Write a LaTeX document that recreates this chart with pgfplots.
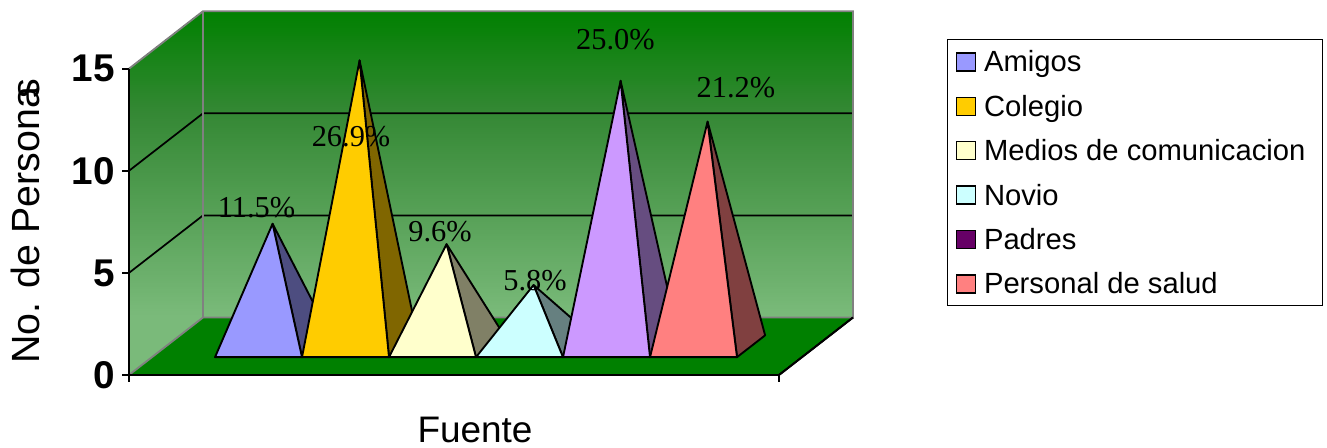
\documentclass[border=0pt]{standalone}
\usepackage{fontspec}
\setmainfont{Liberation Sans}
\newfontfamily\serifnum{Liberation Serif}
\usepackage{pgfplots}
\pgfplotsset{compat=1.18}
\definecolor{wallTop}{RGB}{0,128,0}
\definecolor{wallMid}{RGB}{52,136,52}
\definecolor{wallBottom}{RGB}{122,186,122}
\definecolor{floorgreen}{RGB}{0,128,0}
\definecolor{wallEdge}{RGB}{128,128,128}
\definecolor{amigos}{HTML}{9999FF}
\definecolor{amigosD}{HTML}{4D4D80}
\definecolor{colegio}{HTML}{FFCC00}
\definecolor{colegioD}{HTML}{806600}
\definecolor{medios}{HTML}{FFFFCC}
\definecolor{mediosD}{HTML}{808066}
\definecolor{novio}{HTML}{CCFFFF}
\definecolor{novioD}{HTML}{668080}
\definecolor{padres}{HTML}{CC99FF}
\definecolor{padresD}{HTML}{664D80}
\definecolor{padresLeg}{HTML}{660066}
\definecolor{salud}{HTML}{FF8080}
\definecolor{saludD}{HTML}{804040}
\begin{document}
\begin{tikzpicture}
\begin{axis}[
  x={(65.25pt,0pt)}, y={(55.5pt,43.1pt)}, z={(0pt,15.315pt)},
  xmin=0, xmax=7.471, ymin=0, ymax=1, zmin=0, zmax=15,
  axis lines=left,
  axis line style={-, line width=1.4pt},
  axis on top=true,
  clip=false,
  xtick=\empty, ytick=\empty,
  ztick={0,5,10,15},
  major tick length=0pt,
  ztick style={draw=none},
  /pgf/number format/assume math mode=true,
  zticklabel style={font=\fontsize{29}{31}\selectfont\bfseries,anchor=east,inner sep=0pt,xshift=-10.5pt,yshift=0pt},
  every axis x label/.style={at={(axis cs:3.977,0,-3.33)},anchor=base,inner sep=0pt,font=\fontsize{27.7}{30}\selectfont},
  every axis z label/.style={at={(axis cs:-1.023,0,7.517)},anchor=base,rotate=90,inner sep=0pt,font=\fontsize{29.5}{32}\selectfont},
  xlabel={Fuente},
  zlabel={No. de Persona\kern-0.3em s},
  legend style={at={(1.1298,0.923)},anchor=north west,draw=black,line width=0.9pt,
    font=\fontsize{21.9}{24}\selectfont,
    row sep=1.8pt,column sep=6pt,inner xsep=6pt,inner ysep=0.75pt,
    nodes={text height=18pt,text depth=3pt,inner ysep=5.25pt,inner xsep=0pt,anchor=west}},
  legend cell align=left,
  legend image code/.code={\draw[#1,draw=black,line width=1.1pt] (0pt,-6.75pt) rectangle (14.25pt,6.75pt);},
]
\coordinate (O) at (axis cs:0,0,0);

% side and back walls share one gradient that runs straight down the page
\fill[wallBottom] (axis cs:0,0,0) -- (axis cs:0,0,15) -- (axis cs:0,1,15) -- (axis cs:7.471,1,15) -- (axis cs:7.471,1,0) -- (axis cs:0,1,0) -- cycle;
\begin{scope}
\clip (axis cs:0,0,0) -- (axis cs:0,0,15) -- (axis cs:0,1,15) -- (axis cs:7.471,1,15) -- (axis cs:7.471,1,0) -- (axis cs:0,1,0) -- cycle;
\pgfplotsinvokeforeach{0,...,100}{
  \fill[wallMid!#1!wallBottom] (axis cs:-1,1,{0.1*#1}) -- (axis cs:7.471,1,{0.1*#1}) -- (axis cs:7.471,1,15) -- (axis cs:-1,1,15) -- cycle;
}
\pgfplotsinvokeforeach{0,...,50}{
  \fill[wallTop!\the\numexpr 2*#1\relax!wallMid] (axis cs:-1,1,{10+0.1*#1}) -- (axis cs:7.471,1,{10+0.1*#1}) -- (axis cs:7.471,1,15) -- (axis cs:-1,1,15) -- cycle;
}
\end{scope}
% floor
\fill[floorgreen] (axis cs:0,0,0) -- (axis cs:7.471,0,0) -- (axis cs:7.471,1,0) -- (axis cs:0,1,0) -- cycle;
% gridlines along the walls
\draw[black,line width=1.3pt] (axis cs:0,0,5) -- (axis cs:0,1,5) -- (axis cs:7.471,1,5);
\draw[black,line width=1.3pt] (axis cs:0,0,10) -- (axis cs:0,1,10) -- (axis cs:7.471,1,10);
% wall outlines
\draw[wallEdge,line width=1.4pt] (axis cs:0,0,15) -- (axis cs:0,1,15) -- (axis cs:7.471,1,15) -- (axis cs:7.471,1,0) -- (axis cs:0,1,0) -- (axis cs:0,0,0);
\draw[wallEdge,line width=1.4pt] (axis cs:0,1,15) -- (axis cs:0,1,0);
% right edge of the floor
\draw[black,line width=1.4pt] (axis cs:7.471,0,0) -- (axis cs:7.471,1,0);

% one pyramid per source: shaded side first, then the front face
\pgfplotsset{pyramid/.style={draw=black,line width=1.4pt,line join=round,forget plot}}
\addplot3[pyramid,fill=amigosD] coordinates {(1.725,0.31,0) (1.725,0.69,0) (1.225,0.5,6)} -- cycle;
\addplot3[pyramid,fill=amigos] coordinates {(0.725,0.31,0) (1.725,0.31,0) (1.225,0.5,6)} -- cycle;
\addplot3[pyramid,fill=colegioD] coordinates {(2.725,0.31,0) (2.725,0.69,0) (2.225,0.5,14)} -- cycle;
\addplot3[pyramid,fill=colegio] coordinates {(1.725,0.31,0) (2.725,0.31,0) (2.225,0.5,14)} -- cycle;
\addplot3[pyramid,fill=mediosD] coordinates {(3.725,0.31,0) (3.725,0.69,0) (3.225,0.5,5)} -- cycle;
\addplot3[pyramid,fill=medios] coordinates {(2.725,0.31,0) (3.725,0.31,0) (3.225,0.5,5)} -- cycle;
\addplot3[pyramid,fill=novioD] coordinates {(4.725,0.31,0) (4.725,0.69,0) (4.225,0.5,3)} -- cycle;
\addplot3[pyramid,fill=novio] coordinates {(3.725,0.31,0) (4.725,0.31,0) (4.225,0.5,3)} -- cycle;
\addplot3[pyramid,fill=padresD] coordinates {(5.725,0.31,0) (5.725,0.69,0) (5.225,0.5,13)} -- cycle;
\addplot3[pyramid,fill=padres] coordinates {(4.725,0.31,0) (5.725,0.31,0) (5.225,0.5,13)} -- cycle;
\addplot3[pyramid,fill=saludD] coordinates {(6.725,0.31,0) (6.725,0.69,0) (6.225,0.5,11)} -- cycle;
\addplot3[pyramid,fill=salud] coordinates {(5.725,0.31,0) (6.725,0.31,0) (6.225,0.5,11)} -- cycle;

\addlegendimage{fill=amigos}\addlegendentry{Amigos}
\addlegendimage{fill=colegio}\addlegendentry{Colegio}
\addlegendimage{fill=medios}\addlegendentry{Medios de comunicacion\rule{6.75pt}{0pt}}
\addlegendimage{fill=novio}\addlegendentry{Novio}
\addlegendimage{fill=padresLeg}\addlegendentry{Padres}
\addlegendimage{fill=salud}\addlegendentry{Personal de salud}

% tick marks, left of the value axis and below the base line
\foreach \v in {0,5,10,15} {
  \edef\tmp{\noexpand\draw[black,line width=1.4pt] (axis cs:0,0,\v) -- ++(-5.25pt,0pt);}\tmp
}
\draw[black,line width=1.4pt] (axis cs:0,0,0) -- ++(0pt,-5.25pt);
\draw[black,line width=1.4pt] (axis cs:7.471,0,0) -- ++(0pt,-5.25pt);

% share of each source
\begin{scope}[every node/.style={anchor=base,font=\serifnum\fontsize{22.8}{24}\selectfont,inner sep=0pt}]
\node at (axis cs:1.466,0,7.69) {11.5\%};
\node at (axis cs:2.552,0,11.21) {26.9\%};
\node at (axis cs:3.575,0,6.56) {9.6\%};
\node at (axis cs:4.667,0,4.16) {5.8\%};
\node at (axis cs:5.592,0,15.92) {25.0\%};
\node at (axis cs:6.977,0,13.57) {21.2\%};
\end{scope}
\end{axis}
\pgfresetboundingbox
\path ([shift={(-96.75pt,-54.75pt)}]O) rectangle ([shift={(898.5pt,281.25pt)}]O);
\end{tikzpicture}
\end{document}
